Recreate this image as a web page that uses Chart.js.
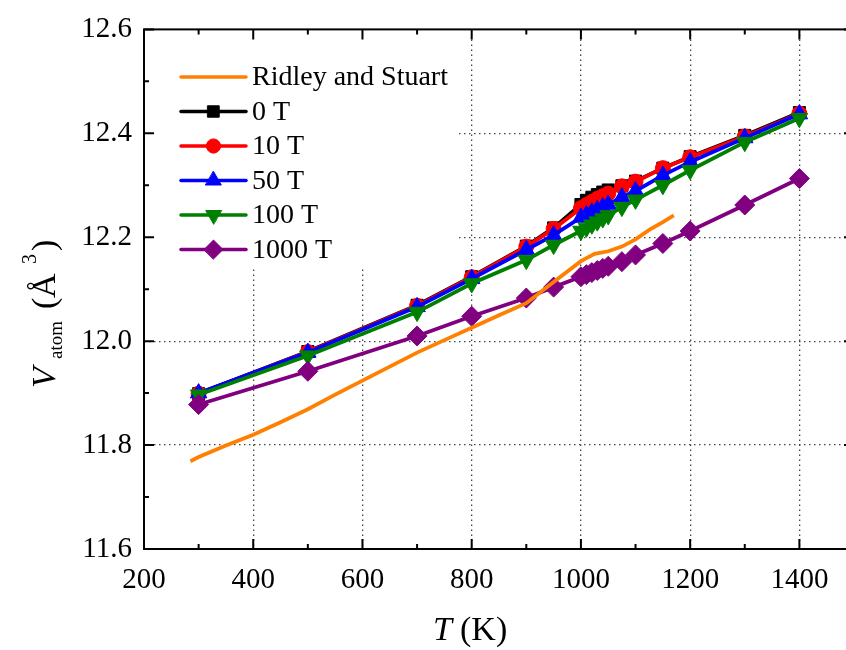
<!DOCTYPE html>
<html>
<head>
<meta charset="utf-8">
<script src="https://cdn.jsdelivr.net/npm/chart.js@4.4.0/dist/chart.umd.min.js"></script>
<style>
  html, body { margin: 0; padding: 0; overflow: hidden; background: #fff; }
  canvas { display: block; }
</style>
</head>
<body>
<canvas id="vatomChart" width="870" height="650"></canvas>
<script>
/* ---- data ---- */
const temps = [300, 500, 700, 800, 900, 950, 1000, 1010, 1020, 1030, 1040, 1050, 1075, 1100, 1150, 1200, 1300, 1400];
const v0T    = [11.899, 11.980, 12.069, 12.124, 12.183, 12.218, 12.263, 12.271, 12.277, 12.282, 12.287, 12.291, 12.299, 12.308, 12.333, 12.355, 12.396, 12.440];
const v10T   = [11.899, 11.979, 12.068, 12.123, 12.182, 12.216, 12.256, 12.262, 12.268, 12.274, 12.279, 12.284, 12.298, 12.307, 12.333, 12.354, 12.394, 12.438];
const v50T   = [11.900, 11.978, 12.066, 12.120, 12.176, 12.204, 12.238, 12.243, 12.248, 12.253, 12.258, 12.263, 12.277, 12.289, 12.319, 12.345, 12.391, 12.437];
const v100T  = [11.897, 11.972, 12.056, 12.111, 12.156, 12.185, 12.212, 12.218, 12.224, 12.230, 12.236, 12.242, 12.258, 12.272, 12.300, 12.329, 12.383, 12.429];
const v1000T = [11.878, 11.942, 12.010, 12.048, 12.083, 12.104, 12.124, 12.128, 12.132, 12.136, 12.140, 12.144, 12.153, 12.166, 12.188, 12.212, 12.262, 12.313];

const ridleyT = [285, 300, 350, 400, 450, 500, 550, 600, 650, 700, 750, 800, 850, 900, 950, 1000, 1025, 1050, 1075, 1100, 1125, 1150, 1170];
const ridleyV = [11.769, 11.777, 11.799, 11.820, 11.844, 11.869, 11.897, 11.924, 11.951, 11.978, 12.002, 12.026, 12.050, 12.073, 12.114, 12.154, 12.168, 12.173, 12.182, 12.196, 12.214, 12.229, 12.242];

const xTickLabels = [200, 400, 600, 800, 1000, 1200, 1400];
const xGridAt = [400, 600, 800, 1000, 1200, 1400];
const yTickLabels = ['11.6', '11.8', '12.0', '12.2', '12.4', '12.6'];
const yGridAt = ['11.8', '12.0', '12.2', '12.4'];

const serif = '"Liberation Serif", "Times New Roman", serif';

function pts(xs, ys) {
    return xs.map(function (x, i) { return { x: x, y: ys[i] }; });
}

// legend order = dataset order; "order" only controls what lands on top
const datasets = [
    { label: 'Ridley and Stuart', data: pts(ridleyT, ridleyV), borderColor: '#ff8000',
      borderWidth: 3.8, pointRadius: 0, order: 0 },
    { label: '0 T', data: pts(temps, v0T), borderColor: '#000000',
      borderWidth: 3.8, pointStyle: 'rect', pointRadius: 8.5, order: 5 },
    { label: '10 T', data: pts(temps, v10T), borderColor: '#ff0000',
      borderWidth: 3.8, pointStyle: 'circle', pointRadius: 7.5, order: 4 },
    { label: '50 T', data: pts(temps, v50T), borderColor: '#0000ff',
      borderWidth: 3.8, pointStyle: 'triangle', pointRadius: 9.5, order: 3 },
    { label: '100 T', data: pts(temps, v100T), borderColor: '#008000',
      borderWidth: 3.8, pointStyle: 'triangle', pointRotation: 180, pointRadius: 9.5, order: 2 },
    { label: '1000 T', data: pts(temps, v1000T), borderColor: '#800080',
      borderWidth: 3.8, pointStyle: 'rectRot', pointRadius: 10, order: 1 }
];
datasets.forEach(function (d) {
    d.backgroundColor = d.borderColor;
    d.pointBorderWidth = 1;
    d.pointBorderColor = d.borderColor;
    d.pointBackgroundColor = d.borderColor;
    d.tension = 0;
    d.fill = false;
});

// white legend panel inside the plot, hides the grid under it
const insideLegend = {
    id: 'insideLegend',
    beforeDatasetsDraw(chart) {
        const ctx = chart.ctx;
        const area = chart.chartArea;
        ctx.save();
        ctx.fillStyle = '#ffffff';
        ctx.fillRect(area.left + 1, area.top + 1, 455 - area.left, 266 - area.top);

        ctx.font = '28px ' + serif;
        ctx.textBaseline = 'middle';
        ctx.textAlign = 'left';
        chart.data.datasets.forEach(function (ds, i) {
            const y = 77 + i * 34.5;
            ctx.strokeStyle = ds.borderColor;
            ctx.lineWidth = 3.5;
            ctx.lineCap = 'round';
            ctx.beginPath();
            ctx.moveTo(181, y);
            ctx.lineTo(246, y);
            ctx.stroke();
            if (ds.pointRadius > 0) {
                ctx.fillStyle = ds.borderColor;
                ctx.lineWidth = 1;
                Chart.helpers.drawPoint(ctx, {
                    pointStyle: ds.pointStyle,
                    rotation: ds.pointRotation || 0,
                    radius: ds.pointRadius * 0.95,
                    borderWidth: 1
                }, 213.5, y);
            }
            ctx.fillStyle = '#000000';
            ctx.fillText(ds.label, 252, y + 1);
        });
        ctx.restore();
    }
};

// box frame, inward ticks on all four sides, axis titles
const frameAndTitles = {
    id: 'frameAndTitles',
    afterDraw(chart) {
        const ctx = chart.ctx;
        const a = chart.chartArea;
        const xs = chart.scales.x;
        const ys = chart.scales.y;
        ctx.save();
        ctx.strokeStyle = '#000000';
        ctx.lineWidth = 2;
        ctx.strokeRect(a.left, a.top, a.right - a.left, a.bottom - a.top);

        ctx.beginPath();
        xs.ticks.forEach(function (t) {
            const px = xs.getPixelForValue(t.value);
            const len = (t.value % 200 === 0) ? 10 : 5;
            ctx.moveTo(px, a.bottom); ctx.lineTo(px, a.bottom - len);
            ctx.moveTo(px, a.top); ctx.lineTo(px, a.top + len);
        });
        ys.ticks.forEach(function (t) {
            const py = ys.getPixelForValue(t.value);
            const len = (Math.round(t.value * 10) % 2 === 0) ? 10 : 5;
            ctx.moveTo(a.left, py); ctx.lineTo(a.left + len, py);
            ctx.moveTo(a.right, py); ctx.lineTo(a.right - len, py);
        });
        ctx.stroke();

        // x title: T (K)
        ctx.fillStyle = '#000000';
        ctx.textBaseline = 'alphabetic';
        ctx.textAlign = 'left';
        ctx.font = 'italic 34px ' + serif;
        ctx.fillText('T', 433, 640);
        ctx.font = '34px ' + serif;
        ctx.fillText('(K)', 460, 640);

        // y title: V_atom (Å^3), rotated; offsets measured upward from the V
        ctx.translate(55, 388);
        ctx.rotate(-Math.PI / 2);
        ctx.font = 'italic 34px ' + serif;
        ctx.fillText('V', 0, 0);
        ctx.font = '19px ' + serif;
        ctx.fillText('atom', 29, 7);
        ctx.font = '34px ' + serif;
        ctx.fillText('(', 79, 0);
        ctx.fillText('Å', 90, 0);
        ctx.font = '20px ' + serif;
        ctx.fillText('3', 124, -19);
        ctx.font = '34px ' + serif;
        ctx.fillText(')', 137, 0);
        ctx.restore();
    }
};

new Chart(document.getElementById('vatomChart').getContext('2d'), {
    type: 'line',
    data: { datasets: datasets },
    options: {
        responsive: false,
        animation: false,
        devicePixelRatio: 1,
        layout: { padding: { left: 0, top: 24, right: 16, bottom: 0 } },
        plugins: { legend: { display: false }, tooltip: { enabled: false } },
        scales: {
            x: {
                type: 'linear',
                min: 200,
                max: 1500,
                afterFit: function (s) { s.height = 101; },
                ticks: {
                    stepSize: 100,
                    autoSkip: false,
                    maxRotation: 0,
                    padding: 14,
                    color: '#000000',
                    font: { family: serif, size: 29 },
                    callback: function (v) { return xTickLabels.includes(v) ? String(v) : ''; }
                },
                grid: {
                    drawTicks: false,
                    lineWidth: 1.3,
                    color: function (c) {
                        return (c.tick && xGridAt.includes(c.tick.value)) ? '#444444' : 'rgba(0,0,0,0)';
                    }
                },
                border: { display: false, dash: [1.5, 3.5] }
            },
            y: {
                type: 'linear',
                min: 11.6,
                max: 12.6,
                afterFit: function (s) { s.width = 144; },
                ticks: {
                    stepSize: 0.1,
                    autoSkip: false,
                    padding: 12,
                    color: '#000000',
                    font: { family: serif, size: 29 },
                    callback: function (v) {
                        const s = Number(v).toFixed(1);
                        return yTickLabels.includes(s) ? s : '';
                    }
                },
                grid: {
                    drawTicks: false,
                    lineWidth: 1.3,
                    color: function (c) {
                        return (c.tick && yGridAt.includes(Number(c.tick.value).toFixed(1))) ? '#444444' : 'rgba(0,0,0,0)';
                    }
                },
                border: { display: false, dash: [1.5, 3.5] }
            }
        }
    },
    plugins: [insideLegend, frameAndTitles]
});
</script>
</body>
</html>
